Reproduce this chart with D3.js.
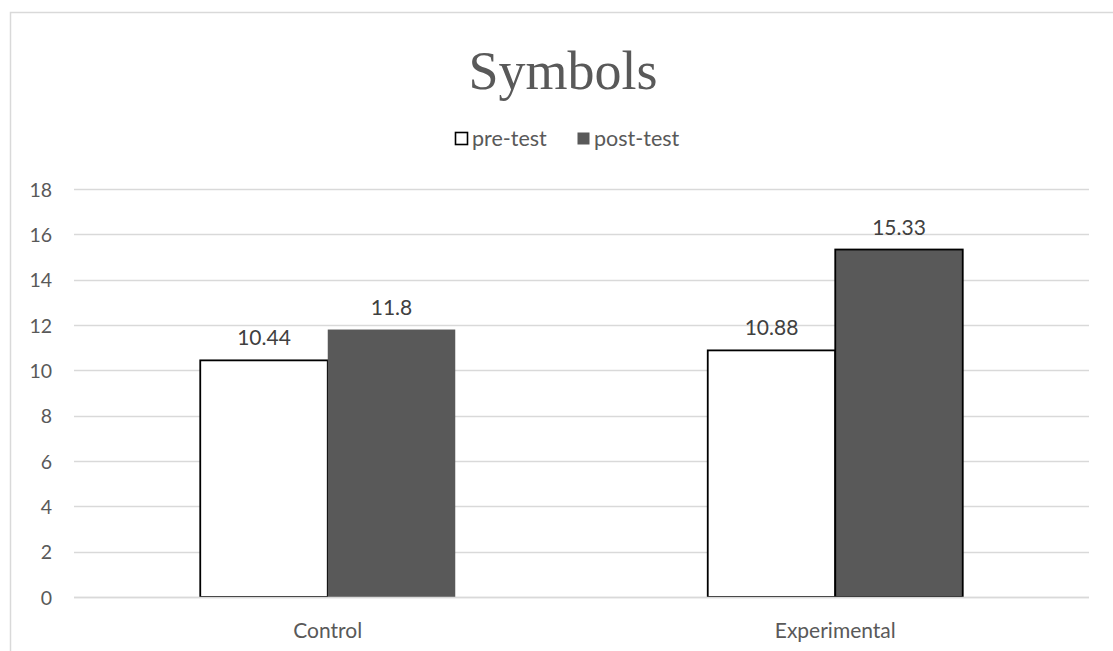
<!DOCTYPE html>
<html><head><meta charset="utf-8">
<script src="https://cdn.jsdelivr.net/npm/d3@7"></script>
<style>body{margin:0;background:#fff}svg{display:block}</style>
</head><body>
<svg id="c" width="1113" height="651"></svg>
<script>
const categories = ["Control", "Experimental"];
const seriesNames = ["pre-test", "post-test"];
const preTest = [10.44, 10.88];
const postTest = [11.8, 15.33];
const yTicks = [0, 2, 4, 6, 8, 10, 12, 14, 16, 18];
const labels = [["10.44", "10.88"], ["11.8", "15.33"]];

(function () {
const svg = d3.select("#c");
const W = 1113, H = 651;
const font = "Lato, 'Open Sans', sans-serif";
const grey = "#595959";

// chart border
svg.append("rect").attr("x", 10.5).attr("y", 12.5).attr("width", W + 20).attr("height", H + 20)
  .attr("fill", "none").attr("stroke", "#d9d9d9").attr("stroke-width", 1.5);

const pLeft = 74, pRight = 1089, pTop = 189, pBottom = 597;
const x0 = d3.scaleBand().domain(categories).range([pLeft, pRight]).paddingInner(0).paddingOuter(0);
const y = d3.scaleLinear().domain([0, 18]).range([pBottom, pTop]);
const bw = 127.5;
const x1 = d3.scaleBand().domain(seriesNames).range([-bw, bw]);

// gridlines
svg.append("g").selectAll("line").data(yTicks).join("line")
  .attr("x1", pLeft).attr("x2", pRight)
  .attr("y1", d => Math.round(y(d)) + 0.5).attr("y2", d => Math.round(y(d)) + 0.5)
  .attr("stroke", "#d9d9d9").attr("stroke-width", 1.3);

// y axis labels
const yAxis = d3.axisLeft(y).tickValues(yTicks).tickSize(0).tickPadding(0).tickFormat(d3.format("d"));
const ga = svg.append("g").attr("transform", `translate(52,0)`).call(yAxis);
ga.select(".domain").remove();
ga.selectAll("text").attr("font-family", font).attr("font-size", 19.5).attr("fill", grey)
  .attr("text-anchor", "end").attr("dy", "0.36em");

const data = [preTest, postTest];
const fills = ["#ffffff", "#595959"];
seriesNames.forEach((s, si) => {
  const g = svg.append("g");
  g.selectAll("rect").data(categories).join("rect")
    .attr("x", (c) => x0(c) + x0.bandwidth() / 2 + x1(s))
    .attr("width", x1.bandwidth())
    .attr("y", (c, i) => y(data[si][i]))
    .attr("height", (c, i) => pBottom - y(data[si][i]))
    .attr("fill", fills[si])
    .attr("stroke", (c, i) => (si === 1 && i === 0) ? "none" : "#000")
    .attr("stroke-width", 1.8);
  g.selectAll("text").data(categories).join("text")
    .attr("x", (c) => x0(c) + x0.bandwidth() / 2 + x1(s) + x1.bandwidth() / 2)
    .attr("y", (c, i) => y(data[si][i]) - 15)
    .attr("text-anchor", "middle")
    .attr("font-family", font).attr("font-size", 21).attr("fill", "#404040")
    .text((c, i) => labels[si][i]);
});

// baseline
svg.append("line").attr("x1", pLeft).attr("x2", pRight).attr("y1", pBottom + 0.5).attr("y2", pBottom + 0.5)
  .attr("stroke", "#d9d9d9").attr("stroke-width", 1.3);

// x axis labels
const xAxis = d3.axisBottom(x0).tickSize(0).tickPadding(0);
const gx = svg.append("g").attr("transform", `translate(0,${pBottom})`).call(xAxis);
gx.select(".domain").remove();
gx.selectAll("text").attr("font-family", font).attr("font-size", 21).attr("fill", grey).attr("dy", 0).attr("y", 41);

// title
svg.append("text").attr("x", 563).attr("y", 89).attr("text-anchor", "middle")
  .attr("font-family", "'Liberation Serif', 'DejaVu Serif', serif").attr("font-size", 54).attr("fill", grey)
  .text("Symbols");

// legend
const lg = svg.append("g");
const items = [{ n: seriesNames[0], x: 455, fill: "#fff", stroke: "#000" }, { n: seriesNames[1], x: 577, fill: "#595959", stroke: "none" }];
items.forEach(it => {
  lg.append("rect").attr("x", it.x + 0.5).attr("y", 132.5).attr("width", 12).attr("height", 12)
    .attr("fill", it.fill).attr("stroke", it.stroke).attr("stroke-width", 1.6);
  lg.append("text").attr("x", it.x + 17).attr("y", 146).attr("font-family", font).attr("font-size", 21.5)
    .attr("fill", grey).text(it.n);
});
})();
</script>
</body></html>
